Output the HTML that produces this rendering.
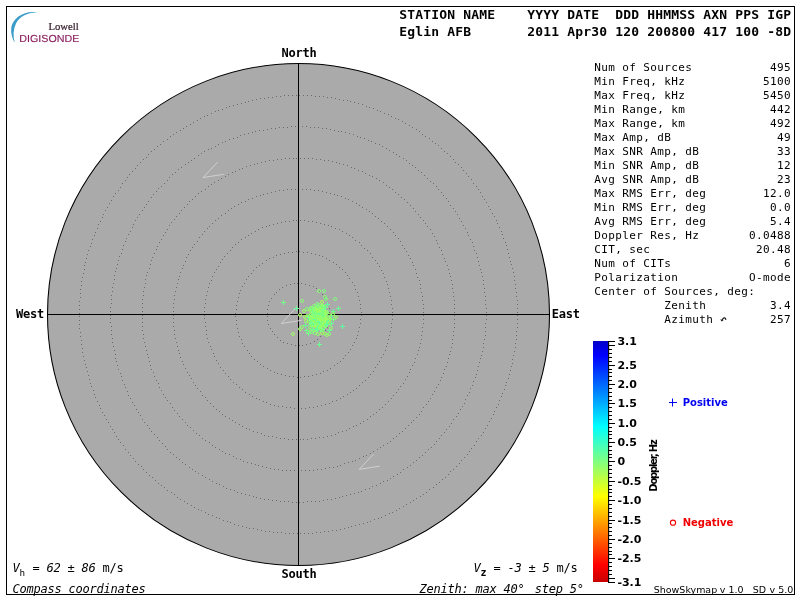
<!DOCTYPE html>
<html><head><meta charset="utf-8"><title>Skymap</title>
<style>
html,body{margin:0;padding:0;background:#fff;}
body{width:800px;height:600px;overflow:hidden;position:relative;}
svg{position:absolute;left:0;top:0;display:block;}
text{white-space:pre;}
.m{font-family:"DejaVu Sans Mono","Liberation Mono",monospace;font-size:11px;letter-spacing:0.378px;fill:#000;}
.mb{font-family:"DejaVu Sans Mono","Liberation Mono",monospace;font-size:12px;font-weight:bold;letter-spacing:-0.224px;fill:#000;}
.hb{font-family:"DejaVu Sans Mono","Liberation Mono",monospace;font-size:13px;font-weight:bold;letter-spacing:0.174px;fill:#000;}
.mi{font-family:"DejaVu Sans Mono","Liberation Mono",monospace;font-size:12px;font-style:italic;letter-spacing:-0.224px;fill:#000;}
.sb{font-family:"DejaVu Sans","Liberation Sans",sans-serif;font-weight:bold;font-size:11px;fill:#000;}
.s{font-family:"DejaVu Sans","Liberation Sans",sans-serif;font-size:10px;fill:#000;}
</style></head><body>
<svg width="800" height="600" viewBox="0 0 800 600">
<defs><linearGradient id="cb" x1="0" y1="0" x2="0" y2="1"><stop offset="0" stop-color="#0000c8"/><stop offset="0.06" stop-color="#0000ff"/><stop offset="0.355" stop-color="#00ffff"/><stop offset="0.5" stop-color="#80ff80"/><stop offset="0.645" stop-color="#ffff00"/><stop offset="0.93" stop-color="#ff0000"/><stop offset="1" stop-color="#c80000"/></linearGradient></defs>
<rect x="0" y="0" width="800" height="600" fill="#fff"/>
<rect x="6.5" y="6.5" width="788" height="588" fill="none" stroke="#000" stroke-width="1"/>
<path d="M38.7 12.6 C26 9.5 12.5 17 11.2 28 C10.7 33.5 12.3 39 14.8 42.8 C12.8 36 13.2 29.5 16 23.5 C19.5 16.5 28 12 38.7 12.6 Z" fill="#3a9cc8"/>
<text transform="translate(48.5,30.3) scale(1.05,1)" font-family="Liberation Serif,serif" font-size="10.2px" fill="#38202f" stroke="#38202f" stroke-width="0.2">Lowell</text>
<text text-rendering="geometricPrecision" transform="translate(19.3,42.3) scale(1.05,1)" font-family="Liberation Sans,sans-serif" font-size="10.2px" fill="#8a1f60" stroke="#8a1f60" stroke-width="0.15">DIGISONDE</text>
<circle cx="298.5" cy="314.5" r="251.0" fill="#aaaaaa" stroke="#000" stroke-width="1.05"/>
<path d="M329 315.5h1M329 319.5h1M328 323.5h1M327 327.5h1M325 330.5h1M322 334.5h1M320 336.5h1M317 339.5h1M314 341.5h1M310 343.5h1M306 344.5h1M302 345.5h1M299 345.5h1M295 345.5h1M291 344.5h1M287 343.5h1M283 342.5h1M280 340.5h1M277 337.5h1M274 334.5h1M272 331.5h1M270 328.5h1M268 324.5h1M267 320.5h1M267 316.5h1M267 313.5h1M267 309.5h1M268 305.5h1M269 301.5h1M271 298.5h1M274 294.5h1M276 292.5h1M279 289.5h1M282 287.5h1M286 285.5h1M290 284.5h1M294 283.5h1M297 283.5h1M301 283.5h1M305 284.5h1M309 285.5h1M313 286.5h1M316 288.5h1M319 291.5h1M322 294.5h1M324 297.5h1M326 300.5h1M328 304.5h1M329 308.5h1M329 312.5h1M361 315.5h1M360 319.5h1M360 323.5h1M359 327.5h1M358 331.5h1M357 335.5h1M356 338.5h1M354 342.5h1M352 345.5h1M350 349.5h1M348 352.5h1M345 355.5h1M343 358.5h1M340 361.5h1M337 363.5h1M334 365.5h1M330 368.5h1M327 370.5h1M323 371.5h1M320 373.5h1M316 374.5h1M312 375.5h1M308 376.5h1M304 376.5h1M300 377.5h1M297 377.5h1M293 376.5h1M289 376.5h1M285 375.5h1M281 374.5h1M277 373.5h1M274 372.5h1M270 370.5h1M267 368.5h1M263 366.5h1M260 364.5h1M257 361.5h1M254 359.5h1M251 356.5h1M249 353.5h1M247 350.5h1M244 346.5h1M242 343.5h1M241 339.5h1M239 336.5h1M238 332.5h1M237 328.5h1M236 324.5h1M236 320.5h1M235 316.5h1M235 313.5h1M236 309.5h1M236 305.5h1M237 301.5h1M238 297.5h1M239 293.5h1M240 290.5h1M242 286.5h1M244 283.5h1M246 279.5h1M248 276.5h1M251 273.5h1M253 270.5h1M256 267.5h1M259 265.5h1M262 263.5h1M266 260.5h1M269 258.5h1M273 257.5h1M276 255.5h1M280 254.5h1M284 253.5h1M288 252.5h1M292 252.5h1M296 251.5h1M299 251.5h1M303 252.5h1M307 252.5h1M311 253.5h1M315 254.5h1M319 255.5h1M322 256.5h1M326 258.5h1M329 260.5h1M333 262.5h1M336 264.5h1M339 267.5h1M342 269.5h1M345 272.5h1M347 275.5h1M349 278.5h1M352 282.5h1M354 285.5h1M355 289.5h1M357 292.5h1M358 296.5h1M359 300.5h1M360 304.5h1M360 308.5h1M361 312.5h1M392 315.5h1M392 319.5h1M391 323.5h1M391 327.5h1M390 331.5h1M389 335.5h1M388 339.5h1M387 343.5h1M386 346.5h1M385 350.5h1M383 354.5h1M381 357.5h1M379 361.5h1M377 364.5h1M375 367.5h1M373 371.5h1M370 374.5h1M368 377.5h1M365 380.5h1M362 382.5h1M359 385.5h1M356 388.5h1M353 390.5h1M350 392.5h1M347 394.5h1M343 396.5h1M340 398.5h1M336 400.5h1M332 401.5h1M329 403.5h1M325 404.5h1M321 405.5h1M317 406.5h1M313 407.5h1M309 407.5h1M305 408.5h1M301 408.5h1M298 408.5h1M294 408.5h1M290 407.5h1M286 407.5h1M282 406.5h1M278 406.5h1M274 405.5h1M270 404.5h1M266 402.5h1M263 401.5h1M259 399.5h1M256 398.5h1M252 396.5h1M249 394.5h1M245 392.5h1M242 389.5h1M239 387.5h1M236 384.5h1M233 382.5h1M230 379.5h1M228 376.5h1M225 373.5h1M223 370.5h1M220 367.5h1M218 363.5h1M216 360.5h1M214 356.5h1M213 353.5h1M211 349.5h1M210 346.5h1M208 342.5h1M207 338.5h1M206 334.5h1M206 330.5h1M205 326.5h1M205 322.5h1M204 318.5h1M204 315.5h1M204 311.5h1M204 307.5h1M205 303.5h1M205 299.5h1M206 295.5h1M207 291.5h1M208 287.5h1M209 283.5h1M211 280.5h1M212 276.5h1M214 272.5h1M216 269.5h1M218 266.5h1M220 262.5h1M222 259.5h1M224 256.5h1M227 253.5h1M230 250.5h1M232 247.5h1M235 244.5h1M238 242.5h1M241 239.5h1M245 237.5h1M248 235.5h1M251 233.5h1M255 231.5h1M258 229.5h1M262 227.5h1M266 226.5h1M269 225.5h1M273 224.5h1M277 223.5h1M281 222.5h1M285 221.5h1M289 221.5h1M293 220.5h1M296 220.5h1M300 220.5h1M304 220.5h1M308 221.5h1M312 221.5h1M316 222.5h1M320 223.5h1M324 224.5h1M328 225.5h1M331 226.5h1M335 228.5h1M339 229.5h1M342 231.5h1M346 233.5h1M349 235.5h1M352 237.5h1M355 240.5h1M359 242.5h1M361 245.5h1M364 248.5h1M367 250.5h1M370 253.5h1M372 257.5h1M375 260.5h1M377 263.5h1M379 266.5h1M381 270.5h1M383 273.5h1M384 277.5h1M386 281.5h1M387 284.5h1M388 288.5h1M389 292.5h1M390 296.5h1M391 300.5h1M391 304.5h1M392 308.5h1M392 312.5h1M423 315.5h1M423 319.5h1M423 323.5h1M422 327.5h1M422 331.5h1M421 335.5h1M421 339.5h1M420 343.5h1M419 347.5h1M418 350.5h1M417 354.5h1M415 358.5h1M414 362.5h1M412 365.5h1M410 369.5h1M409 372.5h1M407 376.5h1M405 379.5h1M403 383.5h1M400 386.5h1M398 389.5h1M396 392.5h1M393 395.5h1M391 398.5h1M388 401.5h1M385 404.5h1M382 407.5h1M379 409.5h1M376 412.5h1M373 414.5h1M370 416.5h1M367 419.5h1M363 421.5h1M360 423.5h1M356 425.5h1M353 426.5h1M349 428.5h1M346 430.5h1M342 431.5h1M338 432.5h1M335 434.5h1M331 435.5h1M327 436.5h1M323 437.5h1M319 437.5h1M315 438.5h1M311 438.5h1M307 439.5h1M303 439.5h1M300 439.5h1M296 439.5h1M292 439.5h1M288 439.5h1M284 438.5h1M280 438.5h1M276 437.5h1M272 436.5h1M268 436.5h1M264 435.5h1M261 433.5h1M257 432.5h1M253 431.5h1M249 429.5h1M246 428.5h1M242 426.5h1M239 424.5h1M235 422.5h1M232 420.5h1M229 418.5h1M225 416.5h1M222 414.5h1M219 411.5h1M216 409.5h1M213 406.5h1M210 403.5h1M207 400.5h1M205 397.5h1M202 395.5h1M200 391.5h1M197 388.5h1M195 385.5h1M193 382.5h1M191 378.5h1M189 375.5h1M187 372.5h1M185 368.5h1M183 364.5h1M182 361.5h1M180 357.5h1M179 353.5h1M178 350.5h1M177 346.5h1M176 342.5h1M175 338.5h1M174 334.5h1M174 330.5h1M173 326.5h1M173 322.5h1M173 318.5h1M173 315.5h1M173 311.5h1M173 307.5h1M173 303.5h1M174 299.5h1M174 295.5h1M175 291.5h1M176 287.5h1M177 283.5h1M178 279.5h1M179 276.5h1M180 272.5h1M182 268.5h1M183 265.5h1M185 261.5h1M186 257.5h1M188 254.5h1M190 250.5h1M192 247.5h1M194 244.5h1M197 241.5h1M199 237.5h1M202 234.5h1M204 231.5h1M207 228.5h1M209 226.5h1M212 223.5h1M215 220.5h1M218 218.5h1M221 215.5h1M225 213.5h1M228 210.5h1M231 208.5h1M234 206.5h1M238 204.5h1M241 202.5h1M245 201.5h1M248 199.5h1M252 198.5h1M256 196.5h1M260 195.5h1M263 194.5h1M267 193.5h1M271 192.5h1M275 191.5h1M279 190.5h1M283 190.5h1M287 189.5h1M291 189.5h1M295 189.5h1M298 189.5h1M302 189.5h1M306 189.5h1M310 189.5h1M314 190.5h1M318 190.5h1M322 191.5h1M326 192.5h1M330 193.5h1M334 194.5h1M337 195.5h1M341 196.5h1M345 198.5h1M348 199.5h1M352 201.5h1M356 203.5h1M359 205.5h1M362 207.5h1M366 209.5h1M369 211.5h1M372 213.5h1M375 216.5h1M378 218.5h1M381 221.5h1M384 223.5h1M387 226.5h1M390 229.5h1M393 232.5h1M395 235.5h1M398 238.5h1M400 241.5h1M402 245.5h1M404 248.5h1M406 251.5h1M408 255.5h1M410 258.5h1M412 262.5h1M413 265.5h1M415 269.5h1M416 273.5h1M417 277.5h1M419 280.5h1M420 284.5h1M420 288.5h1M421 292.5h1M422 296.5h1M422 300.5h1M423 304.5h1M423 308.5h1M423 312.5h1M454 315.5h1M454 319.5h1M454 323.5h1M454 327.5h1M453 331.5h1M453 335.5h1M452 339.5h1M452 343.5h1M451 347.5h1M450 351.5h1M449 354.5h1M448 358.5h1M447 362.5h1M446 366.5h1M444 369.5h1M443 373.5h1M441 377.5h1M440 380.5h1M438 384.5h1M436 387.5h1M434 391.5h1M432 394.5h1M430 398.5h1M428 401.5h1M426 404.5h1M423 407.5h1M421 411.5h1M419 414.5h1M416 417.5h1M413 420.5h1M411 422.5h1M408 425.5h1M405 428.5h1M402 431.5h1M399 433.5h1M396 436.5h1M393 438.5h1M390 441.5h1M387 443.5h1M383 445.5h1M380 447.5h1M377 449.5h1M373 451.5h1M370 453.5h1M366 455.5h1M363 456.5h1M359 458.5h1M355 460.5h1M352 461.5h1M348 462.5h1M344 463.5h1M340 465.5h1M337 466.5h1M333 467.5h1M329 467.5h1M325 468.5h1M321 469.5h1M317 469.5h1M313 470.5h1M309 470.5h1M305 470.5h1M301 470.5h1M298 470.5h1M294 470.5h1M290 470.5h1M286 470.5h1M282 470.5h1M278 469.5h1M274 469.5h1M270 468.5h1M266 467.5h1M262 466.5h1M258 465.5h1M255 464.5h1M251 463.5h1M247 462.5h1M243 461.5h1M240 459.5h1M236 458.5h1M233 456.5h1M229 454.5h1M225 453.5h1M222 451.5h1M219 449.5h1M215 447.5h1M212 445.5h1M209 442.5h1M205 440.5h1M202 438.5h1M199 435.5h1M196 433.5h1M193 430.5h1M190 427.5h1M187 425.5h1M185 422.5h1M182 419.5h1M179 416.5h1M177 413.5h1M174 410.5h1M172 407.5h1M170 403.5h1M167 400.5h1M165 397.5h1M163 394.5h1M161 390.5h1M159 387.5h1M158 383.5h1M156 380.5h1M154 376.5h1M153 372.5h1M151 369.5h1M150 365.5h1M149 361.5h1M148 357.5h1M147 354.5h1M146 350.5h1M145 346.5h1M144 342.5h1M143 338.5h1M143 334.5h1M142 330.5h1M142 326.5h1M142 322.5h1M142 318.5h1M142 315.5h1M142 311.5h1M142 307.5h1M142 303.5h1M142 299.5h1M143 295.5h1M143 291.5h1M144 287.5h1M145 283.5h1M145 279.5h1M146 275.5h1M147 272.5h1M149 268.5h1M150 264.5h1M151 260.5h1M152 257.5h1M154 253.5h1M156 249.5h1M157 246.5h1M159 242.5h1M161 239.5h1M163 235.5h1M165 232.5h1M167 229.5h1M169 225.5h1M171 222.5h1M174 219.5h1M176 216.5h1M179 213.5h1M181 210.5h1M184 207.5h1M187 204.5h1M189 201.5h1M192 199.5h1M195 196.5h1M198 193.5h1M201 191.5h1M205 189.5h1M208 186.5h1M211 184.5h1M214 182.5h1M218 180.5h1M221 178.5h1M225 176.5h1M228 174.5h1M232 172.5h1M235 171.5h1M239 169.5h1M242 168.5h1M246 166.5h1M250 165.5h1M254 164.5h1M257 163.5h1M261 162.5h1M265 161.5h1M269 160.5h1M273 160.5h1M277 159.5h1M281 159.5h1M285 158.5h1M289 158.5h1M293 158.5h1M296 158.5h1M300 158.5h1M304 158.5h1M308 158.5h1M312 158.5h1M316 159.5h1M320 159.5h1M324 160.5h1M328 160.5h1M332 161.5h1M336 162.5h1M339 163.5h1M343 164.5h1M347 165.5h1M351 167.5h1M354 168.5h1M358 170.5h1M362 171.5h1M365 173.5h1M369 175.5h1M372 176.5h1M376 178.5h1M379 180.5h1M383 182.5h1M386 185.5h1M389 187.5h1M392 189.5h1M395 192.5h1M398 194.5h1M401 197.5h1M404 199.5h1M407 202.5h1M410 205.5h1M413 208.5h1M415 211.5h1M418 214.5h1M420 217.5h1M423 220.5h1M425 223.5h1M427 226.5h1M430 229.5h1M432 233.5h1M434 236.5h1M436 240.5h1M437 243.5h1M439 247.5h1M441 250.5h1M442 254.5h1M444 258.5h1M445 261.5h1M447 265.5h1M448 269.5h1M449 273.5h1M450 276.5h1M451 280.5h1M452 284.5h1M452 288.5h1M453 292.5h1M453 296.5h1M454 300.5h1M454 304.5h1M454 308.5h1M454 312.5h1M486 315.5h1M486 319.5h1M485 323.5h1M485 327.5h1M485 331.5h1M485 335.5h1M484 339.5h1M483 343.5h1M483 347.5h1M482 351.5h1M481 355.5h1M480 358.5h1M479 362.5h1M478 366.5h1M477 370.5h1M476 374.5h1M475 377.5h1M473 381.5h1M472 385.5h1M470 388.5h1M469 392.5h1M467 395.5h1M465 399.5h1M464 403.5h1M462 406.5h1M460 409.5h1M458 413.5h1M456 416.5h1M453 419.5h1M451 423.5h1M449 426.5h1M446 429.5h1M444 432.5h1M441 435.5h1M439 438.5h1M436 441.5h1M434 444.5h1M431 447.5h1M428 449.5h1M425 452.5h1M422 455.5h1M419 457.5h1M416 460.5h1M413 462.5h1M410 465.5h1M407 467.5h1M403 469.5h1M400 472.5h1M397 474.5h1M393 476.5h1M390 478.5h1M387 480.5h1M383 481.5h1M380 483.5h1M376 485.5h1M372 486.5h1M369 488.5h1M365 489.5h1M361 491.5h1M358 492.5h1M354 493.5h1M350 494.5h1M346 495.5h1M342 496.5h1M339 497.5h1M335 498.5h1M331 499.5h1M327 499.5h1M323 500.5h1M319 501.5h1M315 501.5h1M311 501.5h1M307 501.5h1M303 502.5h1M299 502.5h1M296 502.5h1M292 502.5h1M288 501.5h1M284 501.5h1M280 501.5h1M276 500.5h1M272 500.5h1M268 499.5h1M264 499.5h1M260 498.5h1M256 497.5h1M253 496.5h1M249 495.5h1M245 494.5h1M241 493.5h1M237 492.5h1M234 490.5h1M230 489.5h1M226 488.5h1M223 486.5h1M219 484.5h1M216 483.5h1M212 481.5h1M209 479.5h1M205 477.5h1M202 475.5h1M198 473.5h1M195 471.5h1M192 469.5h1M189 467.5h1M185 464.5h1M182 462.5h1M179 459.5h1M176 457.5h1M173 454.5h1M170 452.5h1M167 449.5h1M165 446.5h1M162 443.5h1M159 440.5h1M157 437.5h1M154 434.5h1M151 431.5h1M149 428.5h1M147 425.5h1M144 422.5h1M142 419.5h1M140 415.5h1M138 412.5h1M136 409.5h1M134 405.5h1M132 402.5h1M130 398.5h1M128 395.5h1M127 391.5h1M125 387.5h1M124 384.5h1M122 380.5h1M121 376.5h1M120 373.5h1M118 369.5h1M117 365.5h1M116 361.5h1M115 358.5h1M115 354.5h1M114 350.5h1M113 346.5h1M112 342.5h1M112 338.5h1M111 334.5h1M111 330.5h1M111 326.5h1M110 322.5h1M110 318.5h1M110 315.5h1M110 311.5h1M110 307.5h1M111 303.5h1M111 299.5h1M111 295.5h1M112 291.5h1M112 287.5h1M113 283.5h1M114 279.5h1M114 275.5h1M115 271.5h1M116 268.5h1M117 264.5h1M118 260.5h1M119 256.5h1M121 253.5h1M122 249.5h1M123 245.5h1M125 241.5h1M126 238.5h1M128 234.5h1M130 231.5h1M132 227.5h1M133 224.5h1M135 220.5h1M137 217.5h1M139 214.5h1M142 210.5h1M144 207.5h1M146 204.5h1M148 201.5h1M151 197.5h1M153 194.5h1M156 191.5h1M158 188.5h1M161 186.5h1M164 183.5h1M167 180.5h1M169 177.5h1M172 174.5h1M175 172.5h1M178 169.5h1M181 167.5h1M185 164.5h1M188 162.5h1M191 160.5h1M194 158.5h1M198 155.5h1M201 153.5h1M204 151.5h1M208 149.5h1M211 148.5h1M215 146.5h1M218 144.5h1M222 142.5h1M225 141.5h1M229 139.5h1M233 138.5h1M237 137.5h1M240 135.5h1M244 134.5h1M248 133.5h1M252 132.5h1M255 131.5h1M259 130.5h1M263 130.5h1M267 129.5h1M271 128.5h1M275 128.5h1M279 127.5h1M283 127.5h1M287 127.5h1M291 126.5h1M295 126.5h1M298 126.5h1M302 126.5h1M306 126.5h1M310 127.5h1M314 127.5h1M318 127.5h1M322 128.5h1M326 128.5h1M330 129.5h1M334 130.5h1M338 131.5h1M341 131.5h1M345 132.5h1M349 133.5h1M353 134.5h1M357 136.5h1M360 137.5h1M364 138.5h1M368 140.5h1M371 141.5h1M375 143.5h1M379 144.5h1M382 146.5h1M386 148.5h1M389 150.5h1M393 152.5h1M396 154.5h1M399 156.5h1M403 158.5h1M406 160.5h1M409 163.5h1M412 165.5h1M415 167.5h1M418 170.5h1M421 172.5h1M424 175.5h1M427 178.5h1M430 181.5h1M433 183.5h1M436 186.5h1M438 189.5h1M441 192.5h1M443 195.5h1M446 198.5h1M448 201.5h1M450 205.5h1M453 208.5h1M455 211.5h1M457 214.5h1M459 218.5h1M461 221.5h1M463 225.5h1M465 228.5h1M467 232.5h1M468 235.5h1M470 239.5h1M472 242.5h1M473 246.5h1M474 250.5h1M476 253.5h1M477 257.5h1M478 261.5h1M479 265.5h1M480 269.5h1M481 272.5h1M482 276.5h1M483 280.5h1M483 284.5h1M484 288.5h1M484 292.5h1M485 296.5h1M485 300.5h1M485 304.5h1M486 308.5h1M486 312.5h1M517 315.5h1M517 319.5h1M517 323.5h1M517 327.5h1M516 331.5h1M516 335.5h1M516 339.5h1M515 343.5h1M515 347.5h1M514 351.5h1M513 355.5h1M512 359.5h1M512 363.5h1M511 366.5h1M510 370.5h1M509 374.5h1M508 378.5h1M506 382.5h1M505 385.5h1M504 389.5h1M502 393.5h1M501 396.5h1M499 400.5h1M498 404.5h1M496 407.5h1M494 411.5h1M493 414.5h1M491 418.5h1M489 421.5h1M487 425.5h1M485 428.5h1M483 432.5h1M481 435.5h1M478 438.5h1M476 441.5h1M474 445.5h1M471 448.5h1M469 451.5h1M467 454.5h1M464 457.5h1M461 460.5h1M459 463.5h1M456 466.5h1M453 469.5h1M450 471.5h1M448 474.5h1M445 477.5h1M442 479.5h1M439 482.5h1M436 484.5h1M433 487.5h1M429 489.5h1M426 492.5h1M423 494.5h1M420 496.5h1M416 498.5h1M413 500.5h1M410 502.5h1M406 504.5h1M403 506.5h1M399 508.5h1M396 510.5h1M392 512.5h1M389 513.5h1M385 515.5h1M381 517.5h1M378 518.5h1M374 519.5h1M370 521.5h1M367 522.5h1M363 523.5h1M359 524.5h1M355 525.5h1M351 526.5h1M348 527.5h1M344 528.5h1M340 529.5h1M336 530.5h1M332 530.5h1M328 531.5h1M324 531.5h1M320 532.5h1M316 532.5h1M312 533.5h1M308 533.5h1M304 533.5h1M300 533.5h1M297 533.5h1M293 533.5h1M289 533.5h1M285 533.5h1M281 532.5h1M277 532.5h1M273 532.5h1M269 531.5h1M265 531.5h1M261 530.5h1M257 529.5h1M253 528.5h1M249 528.5h1M246 527.5h1M242 526.5h1M238 525.5h1M234 524.5h1M230 522.5h1M227 521.5h1M223 520.5h1M219 518.5h1M216 517.5h1M212 515.5h1M208 514.5h1M205 512.5h1M201 510.5h1M198 509.5h1M194 507.5h1M191 505.5h1M187 503.5h1M184 501.5h1M180 499.5h1M177 497.5h1M174 494.5h1M171 492.5h1M167 490.5h1M164 487.5h1M161 485.5h1M158 483.5h1M155 480.5h1M152 477.5h1M149 475.5h1M146 472.5h1M143 469.5h1M141 466.5h1M138 464.5h1M135 461.5h1M133 458.5h1M130 455.5h1M128 452.5h1M125 449.5h1M123 445.5h1M120 442.5h1M118 439.5h1M116 436.5h1M114 432.5h1M112 429.5h1M110 426.5h1M108 422.5h1M106 419.5h1M104 415.5h1M102 412.5h1M100 408.5h1M99 405.5h1M97 401.5h1M95 397.5h1M94 394.5h1M93 390.5h1M91 386.5h1M90 383.5h1M89 379.5h1M88 375.5h1M87 371.5h1M86 367.5h1M85 364.5h1M84 360.5h1M83 356.5h1M82 352.5h1M82 348.5h1M81 344.5h1M81 340.5h1M80 336.5h1M80 332.5h1M79 328.5h1M79 324.5h1M79 320.5h1M79 316.5h1M79 313.5h1M79 309.5h1M79 305.5h1M79 301.5h1M80 297.5h1M80 293.5h1M80 289.5h1M81 285.5h1M81 281.5h1M82 277.5h1M83 273.5h1M84 269.5h1M84 265.5h1M85 262.5h1M86 258.5h1M87 254.5h1M88 250.5h1M90 246.5h1M91 243.5h1M92 239.5h1M94 235.5h1M95 232.5h1M97 228.5h1M98 224.5h1M100 221.5h1M102 217.5h1M103 214.5h1M105 210.5h1M107 207.5h1M109 203.5h1M111 200.5h1M113 196.5h1M115 193.5h1M118 190.5h1M120 187.5h1M122 183.5h1M125 180.5h1M127 177.5h1M129 174.5h1M132 171.5h1M135 168.5h1M137 165.5h1M140 162.5h1M143 159.5h1M146 157.5h1M148 154.5h1M151 151.5h1M154 149.5h1M157 146.5h1M160 144.5h1M163 141.5h1M167 139.5h1M170 136.5h1M173 134.5h1M176 132.5h1M180 130.5h1M183 128.5h1M186 126.5h1M190 124.5h1M193 122.5h1M197 120.5h1M200 118.5h1M204 116.5h1M207 115.5h1M211 113.5h1M215 111.5h1M218 110.5h1M222 109.5h1M226 107.5h1M229 106.5h1M233 105.5h1M237 104.5h1M241 103.5h1M245 102.5h1M248 101.5h1M252 100.5h1M256 99.5h1M260 98.5h1M264 98.5h1M268 97.5h1M272 97.5h1M276 96.5h1M280 96.5h1M284 95.5h1M288 95.5h1M292 95.5h1M296 95.5h1M299 95.5h1M303 95.5h1M307 95.5h1M311 95.5h1M315 96.5h1M319 96.5h1M323 96.5h1M327 97.5h1M331 97.5h1M335 98.5h1M339 99.5h1M343 100.5h1M347 100.5h1M350 101.5h1M354 102.5h1M358 103.5h1M362 104.5h1M366 106.5h1M369 107.5h1M373 108.5h1M377 110.5h1M380 111.5h1M384 113.5h1M388 114.5h1M391 116.5h1M395 118.5h1M398 119.5h1M402 121.5h1M405 123.5h1M409 125.5h1M412 127.5h1M416 129.5h1M419 131.5h1M422 134.5h1M425 136.5h1M429 138.5h1M432 141.5h1M435 143.5h1M438 145.5h1M441 148.5h1M444 151.5h1M447 153.5h1M450 156.5h1M453 159.5h1M455 162.5h1M458 164.5h1M461 167.5h1M463 170.5h1M466 173.5h1M468 176.5h1M471 179.5h1M473 183.5h1M476 186.5h1M478 189.5h1M480 192.5h1M482 196.5h1M484 199.5h1M486 202.5h1M488 206.5h1M490 209.5h1M492 213.5h1M494 216.5h1M496 220.5h1M497 223.5h1M499 227.5h1M501 231.5h1M502 234.5h1M503 238.5h1M505 242.5h1M506 245.5h1M507 249.5h1M508 253.5h1M509 257.5h1M510 261.5h1M511 264.5h1M512 268.5h1M513 272.5h1M514 276.5h1M514 280.5h1M515 284.5h1M515 288.5h1M516 292.5h1M516 296.5h1M517 300.5h1M517 304.5h1M517 308.5h1M517 312.5h1" fill="none" stroke="#6a6a6a" stroke-width="1"/>
<line x1="47.5" y1="314.5" x2="549.5" y2="314.5" stroke="#000" stroke-width="1"/>
<line x1="298.5" y1="63.5" x2="298.5" y2="565.5" stroke="#000" stroke-width="1"/>
<polyline points="217.5,162.2 203.2,177.5 223.7,174.3" fill="none" stroke="#d0d0d0" stroke-width="1"/>
<polyline points="373.5,454.1 359.2,469.4 379.7,466.2" fill="none" stroke="#d0d0d0" stroke-width="1"/>
<polyline points="295.6,308.2 281.3,323.5 301.8,320.3" fill="none" stroke="#d0d0d0" stroke-width="1"/>
<ellipse cx="318.8" cy="317.4" rx="7.5" ry="8" fill="#88ff72"/>
<g fill="none" stroke-width="1"><circle cx="316" cy="318" r="1.5" stroke="#7eff80"/><circle cx="318" cy="316" r="1.5" stroke="#92ff6c"/><circle cx="324" cy="317" r="1.5" stroke="#88ff76"/><circle cx="320" cy="311" r="1.5" stroke="#7eff80"/><path d="M315.0 314.5h5M317.5 312.0v5" stroke="#62ff9c"/><path d="M315.0 325.5h5M317.5 323.0v5" stroke="#74ff8a"/><circle cx="316" cy="310" r="1.5" stroke="#9cff62"/><circle cx="316" cy="315" r="1.5" stroke="#9cff62"/><circle cx="318" cy="326" r="1.5" stroke="#9cff62"/><circle cx="320" cy="323" r="1.5" stroke="#a6ff5a"/><circle cx="324" cy="314" r="1.5" stroke="#9cff62"/><path d="M314.0 315.5h5M316.5 313.0v5" stroke="#62ff9c"/><circle cx="321" cy="321" r="1.5" stroke="#92ff6c"/><circle cx="313" cy="318" r="1.5" stroke="#92ff6c"/><circle cx="317" cy="330" r="1.5" stroke="#7eff80"/><circle cx="318" cy="317" r="1.5" stroke="#7eff80"/><path d="M318.0 318.5h5M320.5 316.0v5" stroke="#6aff94"/><circle cx="329" cy="320" r="1.5" stroke="#88ff76"/><circle cx="315" cy="322" r="1.5" stroke="#7eff80"/><circle cx="316" cy="316" r="1.5" stroke="#9cff62"/><circle cx="314" cy="313" r="1.5" stroke="#9cff62"/><circle cx="320" cy="311" r="1.5" stroke="#a6ff5a"/><circle cx="322" cy="330" r="1.5" stroke="#88ff76"/><path d="M315.0 322.5h5M317.5 320.0v5" stroke="#6aff94"/><path d="M317.0 321.5h5M319.5 319.0v5" stroke="#74ff8a"/><circle cx="319" cy="308" r="1.5" stroke="#92ff6c"/><circle cx="315" cy="308" r="1.5" stroke="#88ff76"/><path d="M312.0 311.5h5M314.5 309.0v5" stroke="#74ff8a"/><circle cx="316" cy="321" r="1.5" stroke="#9cff62"/><circle cx="329" cy="334" r="1.5" stroke="#92ff6c"/><path d="M318.0 319.5h5M320.5 317.0v5" stroke="#62ff9c"/><path d="M318.0 318.5h5M320.5 316.0v5" stroke="#74ff8a"/><circle cx="326" cy="323" r="1.5" stroke="#92ff6c"/><path d="M318.0 318.5h5M320.5 316.0v5" stroke="#6aff94"/><circle cx="313" cy="319" r="1.5" stroke="#7eff80"/><circle cx="312" cy="332" r="1.5" stroke="#7eff80"/><path d="M319.0 315.5h5M321.5 313.0v5" stroke="#74ff8a"/><circle cx="322" cy="318" r="1.5" stroke="#a6ff5a"/><circle cx="322" cy="318" r="1.5" stroke="#a6ff5a"/><circle cx="317" cy="318" r="1.5" stroke="#9cff62"/><circle cx="324" cy="315" r="1.5" stroke="#7eff80"/><path d="M315.0 319.5h5M317.5 317.0v5" stroke="#6aff94"/><circle cx="318" cy="326" r="1.5" stroke="#7eff80"/><circle cx="318" cy="314" r="1.5" stroke="#7eff80"/><circle cx="330" cy="319" r="1.5" stroke="#9cff62"/><circle cx="318" cy="320" r="1.5" stroke="#92ff6c"/><circle cx="323" cy="314" r="1.5" stroke="#92ff6c"/><path d="M312.0 313.5h5M314.5 311.0v5" stroke="#6aff94"/><circle cx="319" cy="321" r="1.5" stroke="#a6ff5a"/><circle cx="318" cy="312" r="1.5" stroke="#88ff76"/><path d="M322.0 312.5h5M324.5 310.0v5" stroke="#62ff9c"/><circle cx="317" cy="322" r="1.5" stroke="#7eff80"/><path d="M315.0 319.5h5M317.5 317.0v5" stroke="#74ff8a"/><path d="M327.0 330.5h5M329.5 328.0v5" stroke="#6aff94"/><circle cx="321" cy="311" r="1.5" stroke="#a6ff5a"/><circle cx="320" cy="315" r="1.5" stroke="#92ff6c"/><path d="M322.0 322.5h5M324.5 320.0v5" stroke="#74ff8a"/><circle cx="316" cy="319" r="1.5" stroke="#9cff62"/><path d="M321.0 309.5h5M323.5 307.0v5" stroke="#6aff94"/><circle cx="322" cy="325" r="1.5" stroke="#a6ff5a"/><path d="M318.0 322.5h5M320.5 320.0v5" stroke="#74ff8a"/><circle cx="322" cy="302" r="1.5" stroke="#a6ff5a"/><path d="M310.0 316.5h5M312.5 314.0v5" stroke="#74ff8a"/><circle cx="307" cy="309" r="1.5" stroke="#7eff80"/><circle cx="319" cy="314" r="1.5" stroke="#92ff6c"/><circle cx="319" cy="291" r="1.5" stroke="#88ff76"/><circle cx="325" cy="297" r="1.5" stroke="#88ff76"/><path d="M320.0 311.5h5M322.5 309.0v5" stroke="#74ff8a"/><path d="M323.0 320.5h5M325.5 318.0v5" stroke="#62ff9c"/><path d="M315.0 318.5h5M317.5 316.0v5" stroke="#62ff9c"/><path d="M313.0 315.5h5M315.5 313.0v5" stroke="#6aff94"/><path d="M320.0 315.5h5M322.5 313.0v5" stroke="#74ff8a"/><circle cx="310" cy="310" r="1.5" stroke="#a6ff5a"/><circle cx="309" cy="322" r="1.5" stroke="#92ff6c"/><circle cx="318" cy="315" r="1.5" stroke="#92ff6c"/><circle cx="321" cy="315" r="1.5" stroke="#7eff80"/><circle cx="314" cy="325" r="1.5" stroke="#9cff62"/><circle cx="300" cy="315" r="1.5" stroke="#a6ff5a"/><circle cx="312" cy="320" r="1.5" stroke="#7eff80"/><path d="M311.0 311.5h5M313.5 309.0v5" stroke="#6aff94"/><path d="M320.0 306.5h5M322.5 304.0v5" stroke="#74ff8a"/><circle cx="323" cy="306" r="1.5" stroke="#88ff76"/><circle cx="313" cy="330" r="1.5" stroke="#9cff62"/><circle cx="327" cy="322" r="1.5" stroke="#92ff6c"/><path d="M309.0 323.5h5M311.5 321.0v5" stroke="#74ff8a"/><circle cx="310" cy="330" r="1.5" stroke="#9cff62"/><circle cx="319" cy="322" r="1.5" stroke="#9cff62"/><circle cx="318" cy="325" r="1.5" stroke="#a6ff5a"/><path d="M314.0 329.5h5M316.5 327.0v5" stroke="#6aff94"/><path d="M317.0 316.5h5M319.5 314.0v5" stroke="#6aff94"/><circle cx="321" cy="321" r="1.5" stroke="#a6ff5a"/><path d="M315.0 312.5h5M317.5 310.0v5" stroke="#62ff9c"/><circle cx="315" cy="315" r="1.5" stroke="#a6ff5a"/><path d="M304.0 330.5h5M306.5 328.0v5" stroke="#74ff8a"/><path d="M317.0 344.5h5M319.5 342.0v5" stroke="#6aff94"/><circle cx="313" cy="317" r="1.5" stroke="#7eff80"/><path d="M311.0 316.5h5M313.5 314.0v5" stroke="#62ff9c"/><circle cx="316" cy="315" r="1.5" stroke="#88ff76"/><path d="M319.0 324.5h5M321.5 322.0v5" stroke="#74ff8a"/><circle cx="316" cy="319" r="1.5" stroke="#a6ff5a"/><circle cx="320" cy="319" r="1.5" stroke="#9cff62"/><path d="M316.0 319.5h5M318.5 317.0v5" stroke="#6aff94"/><path d="M322.0 314.5h5M324.5 312.0v5" stroke="#74ff8a"/><circle cx="324" cy="319" r="1.5" stroke="#9cff62"/><circle cx="325" cy="319" r="1.5" stroke="#92ff6c"/><circle cx="320" cy="324" r="1.5" stroke="#7eff80"/><path d="M316.0 320.5h5M318.5 318.0v5" stroke="#62ff9c"/><circle cx="320" cy="322" r="1.5" stroke="#88ff76"/><path d="M310.0 309.5h5M312.5 307.0v5" stroke="#62ff9c"/><circle cx="325" cy="326" r="1.5" stroke="#a6ff5a"/><path d="M312.0 315.5h5M314.5 313.0v5" stroke="#6aff94"/><circle cx="325" cy="334" r="1.5" stroke="#92ff6c"/><path d="M314.0 318.5h5M316.5 316.0v5" stroke="#6aff94"/><circle cx="319" cy="305" r="1.5" stroke="#92ff6c"/><path d="M319.0 321.5h5M321.5 319.0v5" stroke="#6aff94"/><path d="M321.0 316.5h5M323.5 314.0v5" stroke="#74ff8a"/><circle cx="318" cy="307" r="1.5" stroke="#92ff6c"/><circle cx="313" cy="320" r="1.5" stroke="#88ff76"/><path d="M315.0 318.5h5M317.5 316.0v5" stroke="#6aff94"/><circle cx="323" cy="310" r="1.5" stroke="#9cff62"/><path d="M319.0 317.5h5M321.5 315.0v5" stroke="#6aff94"/><circle cx="314" cy="319" r="1.5" stroke="#9cff62"/><circle cx="315" cy="319" r="1.5" stroke="#9cff62"/><circle cx="318" cy="321" r="1.5" stroke="#a6ff5a"/><path d="M317.0 312.5h5M319.5 310.0v5" stroke="#6aff94"/><circle cx="306" cy="321" r="1.5" stroke="#9cff62"/><circle cx="321" cy="310" r="1.5" stroke="#a6ff5a"/><path d="M331.0 319.5h5M333.5 317.0v5" stroke="#74ff8a"/><circle cx="311" cy="325" r="1.5" stroke="#9cff62"/><path d="M309.0 321.5h5M311.5 319.0v5" stroke="#74ff8a"/><path d="M319.0 317.5h5M321.5 315.0v5" stroke="#62ff9c"/><circle cx="319" cy="321" r="1.5" stroke="#92ff6c"/><circle cx="321" cy="317" r="1.5" stroke="#9cff62"/><circle cx="315" cy="318" r="1.5" stroke="#88ff76"/><circle cx="325" cy="316" r="1.5" stroke="#a6ff5a"/><circle cx="317" cy="317" r="1.5" stroke="#88ff76"/><path d="M320.0 319.5h5M322.5 317.0v5" stroke="#74ff8a"/><path d="M310.0 318.5h5M312.5 316.0v5" stroke="#62ff9c"/><path d="M318.0 324.5h5M320.5 322.0v5" stroke="#74ff8a"/><circle cx="325" cy="316" r="1.5" stroke="#88ff76"/><circle cx="323" cy="321" r="1.5" stroke="#92ff6c"/><circle cx="325" cy="313" r="1.5" stroke="#92ff6c"/><path d="M313.0 317.5h5M315.5 315.0v5" stroke="#74ff8a"/><circle cx="326" cy="326" r="1.5" stroke="#88ff76"/><path d="M317.0 319.5h5M319.5 317.0v5" stroke="#74ff8a"/><circle cx="312" cy="321" r="1.5" stroke="#92ff6c"/><path d="M313.0 324.5h5M315.5 322.0v5" stroke="#74ff8a"/><circle cx="331" cy="328" r="1.5" stroke="#92ff6c"/><circle cx="320" cy="314" r="1.5" stroke="#9cff62"/><circle cx="321" cy="316" r="1.5" stroke="#a6ff5a"/><circle cx="318" cy="320" r="1.5" stroke="#9cff62"/><circle cx="316" cy="317" r="1.5" stroke="#88ff76"/><path d="M308.0 318.5h5M310.5 316.0v5" stroke="#62ff9c"/><circle cx="320" cy="328" r="1.5" stroke="#9cff62"/><path d="M310.0 329.5h5M312.5 327.0v5" stroke="#6aff94"/><circle cx="323" cy="314" r="1.5" stroke="#9cff62"/><path d="M313.0 325.5h5M315.5 323.0v5" stroke="#6aff94"/><path d="M303.0 325.5h5M305.5 323.0v5" stroke="#6aff94"/><path d="M316.0 314.5h5M318.5 312.0v5" stroke="#6aff94"/><circle cx="319" cy="318" r="1.5" stroke="#9cff62"/><circle cx="325" cy="323" r="1.5" stroke="#9cff62"/><circle cx="315" cy="321" r="1.5" stroke="#a6ff5a"/><path d="M315.0 311.5h5M317.5 309.0v5" stroke="#6aff94"/><circle cx="318" cy="321" r="1.5" stroke="#7eff80"/><path d="M323.0 319.5h5M325.5 317.0v5" stroke="#6aff94"/><path d="M318.0 318.5h5M320.5 316.0v5" stroke="#6aff94"/><circle cx="316" cy="322" r="1.5" stroke="#9cff62"/><path d="M294.0 308.5h5M296.5 306.0v5" stroke="#6aff94"/><circle cx="319" cy="318" r="1.5" stroke="#88ff76"/><circle cx="324" cy="318" r="1.5" stroke="#a6ff5a"/><path d="M321.0 311.5h5M323.5 309.0v5" stroke="#6aff94"/><path d="M314.0 321.5h5M316.5 319.0v5" stroke="#6aff94"/><path d="M318.0 316.5h5M320.5 314.0v5" stroke="#6aff94"/><circle cx="316" cy="316" r="1.5" stroke="#a6ff5a"/><circle cx="300" cy="329" r="1.5" stroke="#9cff62"/><circle cx="318" cy="319" r="1.5" stroke="#7eff80"/><path d="M313.0 323.5h5M315.5 321.0v5" stroke="#74ff8a"/><circle cx="322" cy="315" r="1.5" stroke="#9cff62"/><circle cx="324" cy="291" r="1.5" stroke="#7eff80"/><circle cx="324" cy="315" r="1.5" stroke="#88ff76"/><circle cx="320" cy="315" r="1.5" stroke="#92ff6c"/><path d="M319.0 316.5h5M321.5 314.0v5" stroke="#74ff8a"/><path d="M319.0 312.5h5M321.5 310.0v5" stroke="#6aff94"/><circle cx="318" cy="317" r="1.5" stroke="#9cff62"/><circle cx="327" cy="320" r="1.5" stroke="#92ff6c"/><circle cx="321" cy="319" r="1.5" stroke="#88ff76"/><circle cx="322" cy="317" r="1.5" stroke="#92ff6c"/><path d="M313.0 318.5h5M315.5 316.0v5" stroke="#74ff8a"/><circle cx="317" cy="319" r="1.5" stroke="#9cff62"/><circle cx="316" cy="315" r="1.5" stroke="#a6ff5a"/><circle cx="314" cy="306" r="1.5" stroke="#88ff76"/><circle cx="314" cy="315" r="1.5" stroke="#92ff6c"/><circle cx="302" cy="301" r="1.5" stroke="#88ff76"/><circle cx="320" cy="317" r="1.5" stroke="#9cff62"/><circle cx="320" cy="311" r="1.5" stroke="#a6ff5a"/><path d="M340.0 326.5h5M342.5 324.0v5" stroke="#62ff9c"/><circle cx="323" cy="319" r="1.5" stroke="#92ff6c"/><path d="M316.0 314.5h5M318.5 312.0v5" stroke="#74ff8a"/><path d="M311.0 312.5h5M313.5 310.0v5" stroke="#62ff9c"/><path d="M314.0 312.5h5M316.5 310.0v5" stroke="#74ff8a"/><path d="M317.0 315.5h5M319.5 313.0v5" stroke="#6aff94"/><circle cx="313" cy="316" r="1.5" stroke="#7eff80"/><circle cx="315" cy="316" r="1.5" stroke="#92ff6c"/><circle cx="323" cy="328" r="1.5" stroke="#7eff80"/><path d="M320.0 317.5h5M322.5 315.0v5" stroke="#74ff8a"/><circle cx="314" cy="316" r="1.5" stroke="#88ff76"/><circle cx="316" cy="312" r="1.5" stroke="#a6ff5a"/><circle cx="317" cy="325" r="1.5" stroke="#7eff80"/><circle cx="314" cy="320" r="1.5" stroke="#92ff6c"/><path d="M317.0 318.5h5M319.5 316.0v5" stroke="#74ff8a"/><path d="M316.0 312.5h5M318.5 310.0v5" stroke="#6aff94"/><circle cx="321" cy="317" r="1.5" stroke="#88ff76"/><path d="M317.0 318.5h5M319.5 316.0v5" stroke="#74ff8a"/><circle cx="320" cy="315" r="1.5" stroke="#88ff76"/><path d="M316.0 315.5h5M318.5 313.0v5" stroke="#74ff8a"/><circle cx="316" cy="320" r="1.5" stroke="#92ff6c"/><path d="M312.0 313.5h5M314.5 311.0v5" stroke="#62ff9c"/><circle cx="317" cy="314" r="1.5" stroke="#9cff62"/><circle cx="317" cy="309" r="1.5" stroke="#9cff62"/><circle cx="322" cy="317" r="1.5" stroke="#9cff62"/><circle cx="318" cy="319" r="1.5" stroke="#7eff80"/><circle cx="322" cy="310" r="1.5" stroke="#9cff62"/><circle cx="319" cy="318" r="1.5" stroke="#9cff62"/><circle cx="293" cy="334" r="1.5" stroke="#9cff62"/><circle cx="326" cy="299" r="1.5" stroke="#7eff80"/><circle cx="323" cy="319" r="1.5" stroke="#a6ff5a"/><circle cx="324" cy="309" r="1.5" stroke="#a6ff5a"/><circle cx="318" cy="306" r="1.5" stroke="#7eff80"/><circle cx="310" cy="327" r="1.5" stroke="#88ff76"/><path d="M318.0 316.5h5M320.5 314.0v5" stroke="#6aff94"/><circle cx="309" cy="316" r="1.5" stroke="#9cff62"/><circle cx="321" cy="321" r="1.5" stroke="#9cff62"/><circle cx="313" cy="320" r="1.5" stroke="#9cff62"/><path d="M315.0 326.5h5M317.5 324.0v5" stroke="#62ff9c"/><path d="M314.0 317.5h5M316.5 315.0v5" stroke="#62ff9c"/><path d="M319.0 309.5h5M321.5 307.0v5" stroke="#62ff9c"/><circle cx="319" cy="320" r="1.5" stroke="#9cff62"/><circle cx="323" cy="321" r="1.5" stroke="#7eff80"/><path d="M329.0 315.5h5M331.5 313.0v5" stroke="#6aff94"/><circle cx="307" cy="316" r="1.5" stroke="#9cff62"/><path d="M320.0 321.5h5M322.5 319.0v5" stroke="#74ff8a"/><path d="M318.0 319.5h5M320.5 317.0v5" stroke="#74ff8a"/><circle cx="323" cy="320" r="1.5" stroke="#7eff80"/><circle cx="322" cy="306" r="1.5" stroke="#88ff76"/><circle cx="305" cy="317" r="1.5" stroke="#a6ff5a"/><path d="M312.0 319.5h5M314.5 317.0v5" stroke="#62ff9c"/><circle cx="320" cy="316" r="1.5" stroke="#92ff6c"/><circle cx="321" cy="320" r="1.5" stroke="#92ff6c"/><circle cx="312" cy="323" r="1.5" stroke="#92ff6c"/><circle cx="312" cy="315" r="1.5" stroke="#88ff76"/><circle cx="319" cy="328" r="1.5" stroke="#a6ff5a"/><circle cx="320" cy="318" r="1.5" stroke="#a6ff5a"/><path d="M313.0 315.5h5M315.5 313.0v5" stroke="#6aff94"/><path d="M312.0 315.5h5M314.5 313.0v5" stroke="#6aff94"/><circle cx="316" cy="318" r="1.5" stroke="#9cff62"/><path d="M319.0 320.5h5M321.5 318.0v5" stroke="#62ff9c"/><circle cx="323" cy="306" r="1.5" stroke="#92ff6c"/><circle cx="317" cy="309" r="1.5" stroke="#9cff62"/><path d="M312.0 312.5h5M314.5 310.0v5" stroke="#74ff8a"/><circle cx="312" cy="317" r="1.5" stroke="#7eff80"/><circle cx="318" cy="324" r="1.5" stroke="#92ff6c"/><circle cx="319" cy="319" r="1.5" stroke="#a6ff5a"/><path d="M318.0 328.5h5M320.5 326.0v5" stroke="#74ff8a"/><circle cx="321" cy="315" r="1.5" stroke="#92ff6c"/><circle cx="314" cy="313" r="1.5" stroke="#7eff80"/><path d="M320.0 316.5h5M322.5 314.0v5" stroke="#62ff9c"/><circle cx="315" cy="326" r="1.5" stroke="#a6ff5a"/><circle cx="325" cy="320" r="1.5" stroke="#92ff6c"/><circle cx="316" cy="318" r="1.5" stroke="#7eff80"/><circle cx="322" cy="321" r="1.5" stroke="#88ff76"/><circle cx="320" cy="325" r="1.5" stroke="#7eff80"/><path d="M317.0 313.5h5M319.5 311.0v5" stroke="#74ff8a"/><path d="M320.0 317.5h5M322.5 315.0v5" stroke="#74ff8a"/><circle cx="322" cy="319" r="1.5" stroke="#92ff6c"/><circle cx="320" cy="319" r="1.5" stroke="#9cff62"/><circle cx="318" cy="323" r="1.5" stroke="#92ff6c"/><circle cx="318" cy="317" r="1.5" stroke="#88ff76"/><circle cx="312" cy="308" r="1.5" stroke="#7eff80"/><path d="M318.0 310.5h5M320.5 308.0v5" stroke="#74ff8a"/><circle cx="322" cy="316" r="1.5" stroke="#92ff6c"/><circle cx="312" cy="318" r="1.5" stroke="#a6ff5a"/><path d="M309.0 324.5h5M311.5 322.0v5" stroke="#62ff9c"/><circle cx="321" cy="321" r="1.5" stroke="#88ff76"/><path d="M316.0 312.5h5M318.5 310.0v5" stroke="#6aff94"/><circle cx="327" cy="312" r="1.5" stroke="#7eff80"/><circle cx="320" cy="323" r="1.5" stroke="#a6ff5a"/><circle cx="314" cy="317" r="1.5" stroke="#7eff80"/><path d="M316.0 316.5h5M318.5 314.0v5" stroke="#62ff9c"/><circle cx="313" cy="317" r="1.5" stroke="#9cff62"/><circle cx="315" cy="323" r="1.5" stroke="#a6ff5a"/><path d="M306.0 333.5h5M308.5 331.0v5" stroke="#74ff8a"/><path d="M314.0 318.5h5M316.5 316.0v5" stroke="#74ff8a"/><circle cx="321" cy="315" r="1.5" stroke="#9cff62"/><circle cx="319" cy="322" r="1.5" stroke="#7eff80"/><path d="M325.0 321.5h5M327.5 319.0v5" stroke="#74ff8a"/><circle cx="321" cy="323" r="1.5" stroke="#9cff62"/><circle cx="315" cy="319" r="1.5" stroke="#a6ff5a"/><circle cx="324" cy="325" r="1.5" stroke="#92ff6c"/><circle cx="322" cy="314" r="1.5" stroke="#92ff6c"/><circle cx="317" cy="304" r="1.5" stroke="#7eff80"/><circle cx="315" cy="325" r="1.5" stroke="#a6ff5a"/><circle cx="313" cy="325" r="1.5" stroke="#a6ff5a"/><circle cx="320" cy="322" r="1.5" stroke="#a6ff5a"/><circle cx="326" cy="312" r="1.5" stroke="#9cff62"/><path d="M331.0 311.5h5M333.5 309.0v5" stroke="#6aff94"/><circle cx="315" cy="318" r="1.5" stroke="#a6ff5a"/><circle cx="318" cy="328" r="1.5" stroke="#7eff80"/><path d="M315.0 328.5h5M317.5 326.0v5" stroke="#62ff9c"/><circle cx="318" cy="325" r="1.5" stroke="#7eff80"/><circle cx="324" cy="317" r="1.5" stroke="#88ff76"/><path d="M317.0 317.5h5M319.5 315.0v5" stroke="#62ff9c"/><circle cx="317" cy="320" r="1.5" stroke="#9cff62"/><path d="M321.0 321.5h5M323.5 319.0v5" stroke="#62ff9c"/><circle cx="316" cy="315" r="1.5" stroke="#88ff76"/><path d="M318.0 317.5h5M320.5 315.0v5" stroke="#74ff8a"/><circle cx="323" cy="319" r="1.5" stroke="#92ff6c"/><circle cx="322" cy="317" r="1.5" stroke="#a6ff5a"/><circle cx="321" cy="310" r="1.5" stroke="#9cff62"/><circle cx="317" cy="312" r="1.5" stroke="#a6ff5a"/><circle cx="317" cy="320" r="1.5" stroke="#92ff6c"/><circle cx="321" cy="317" r="1.5" stroke="#a6ff5a"/><circle cx="320" cy="316" r="1.5" stroke="#88ff76"/><circle cx="320" cy="315" r="1.5" stroke="#88ff76"/><circle cx="316" cy="319" r="1.5" stroke="#7eff80"/><path d="M313.0 320.5h5M315.5 318.0v5" stroke="#62ff9c"/><path d="M312.0 315.5h5M314.5 313.0v5" stroke="#6aff94"/><circle cx="321" cy="321" r="1.5" stroke="#a6ff5a"/><circle cx="310" cy="318" r="1.5" stroke="#a6ff5a"/><path d="M318.0 316.5h5M320.5 314.0v5" stroke="#74ff8a"/><path d="M317.0 310.5h5M319.5 308.0v5" stroke="#6aff94"/><path d="M319.0 315.5h5M321.5 313.0v5" stroke="#74ff8a"/><circle cx="324" cy="307" r="1.5" stroke="#7eff80"/><circle cx="316" cy="320" r="1.5" stroke="#7eff80"/><circle cx="336" cy="317" r="1.5" stroke="#9cff62"/><circle cx="312" cy="325" r="1.5" stroke="#9cff62"/><circle cx="304" cy="311" r="1.5" stroke="#9cff62"/><circle cx="311" cy="320" r="1.5" stroke="#7eff80"/><circle cx="320" cy="317" r="1.5" stroke="#88ff76"/><circle cx="325" cy="316" r="1.5" stroke="#88ff76"/><path d="M313.0 313.5h5M315.5 311.0v5" stroke="#74ff8a"/><circle cx="322" cy="333" r="1.5" stroke="#a6ff5a"/><circle cx="319" cy="315" r="1.5" stroke="#88ff76"/><path d="M324.0 320.5h5M326.5 318.0v5" stroke="#62ff9c"/><circle cx="316" cy="322" r="1.5" stroke="#88ff76"/><circle cx="321" cy="312" r="1.5" stroke="#7eff80"/><circle cx="321" cy="317" r="1.5" stroke="#7eff80"/><path d="M319.0 317.5h5M321.5 315.0v5" stroke="#62ff9c"/><path d="M317.0 319.5h5M319.5 317.0v5" stroke="#74ff8a"/><circle cx="319" cy="314" r="1.5" stroke="#88ff76"/><circle cx="320" cy="321" r="1.5" stroke="#a6ff5a"/><circle cx="316" cy="315" r="1.5" stroke="#92ff6c"/><circle cx="314" cy="320" r="1.5" stroke="#92ff6c"/><circle cx="318" cy="325" r="1.5" stroke="#88ff76"/><circle cx="319" cy="318" r="1.5" stroke="#9cff62"/><path d="M316.0 321.5h5M318.5 319.0v5" stroke="#6aff94"/><circle cx="315" cy="316" r="1.5" stroke="#88ff76"/><path d="M315.0 325.5h5M317.5 323.0v5" stroke="#62ff9c"/><circle cx="320" cy="320" r="1.5" stroke="#92ff6c"/><path d="M313.0 309.5h5M315.5 307.0v5" stroke="#6aff94"/><circle cx="323" cy="322" r="1.5" stroke="#7eff80"/><circle cx="318" cy="318" r="1.5" stroke="#a6ff5a"/><circle cx="321" cy="317" r="1.5" stroke="#92ff6c"/><circle cx="325" cy="319" r="1.5" stroke="#7eff80"/><circle cx="319" cy="312" r="1.5" stroke="#9cff62"/><path d="M316.0 318.5h5M318.5 316.0v5" stroke="#62ff9c"/><circle cx="327" cy="335" r="1.5" stroke="#92ff6c"/><circle cx="326" cy="319" r="1.5" stroke="#9cff62"/><circle cx="326" cy="325" r="1.5" stroke="#88ff76"/><path d="M315.0 318.5h5M317.5 316.0v5" stroke="#62ff9c"/><circle cx="324" cy="321" r="1.5" stroke="#a6ff5a"/><circle cx="323" cy="321" r="1.5" stroke="#92ff6c"/><path d="M313.0 320.5h5M315.5 318.0v5" stroke="#74ff8a"/><circle cx="318" cy="324" r="1.5" stroke="#7eff80"/><circle cx="315" cy="316" r="1.5" stroke="#9cff62"/><circle cx="315" cy="312" r="1.5" stroke="#a6ff5a"/><circle cx="322" cy="322" r="1.5" stroke="#92ff6c"/><path d="M314.0 314.5h5M316.5 312.0v5" stroke="#6aff94"/><circle cx="319" cy="317" r="1.5" stroke="#9cff62"/><circle cx="324" cy="322" r="1.5" stroke="#7eff80"/><path d="M315.0 322.5h5M317.5 320.0v5" stroke="#62ff9c"/><circle cx="320" cy="317" r="1.5" stroke="#a6ff5a"/><circle cx="317" cy="321" r="1.5" stroke="#9cff62"/><path d="M322.0 322.5h5M324.5 320.0v5" stroke="#74ff8a"/><circle cx="312" cy="311" r="1.5" stroke="#88ff76"/><path d="M315.0 309.5h5M317.5 307.0v5" stroke="#6aff94"/><circle cx="316" cy="318" r="1.5" stroke="#88ff76"/><path d="M315.0 309.5h5M317.5 307.0v5" stroke="#62ff9c"/><circle cx="321" cy="317" r="1.5" stroke="#a6ff5a"/><path d="M321.0 309.5h5M323.5 307.0v5" stroke="#74ff8a"/><path d="M281.0 302.5h5M283.5 300.0v5" stroke="#74ff8a"/><circle cx="325" cy="315" r="1.5" stroke="#7eff80"/><path d="M320.0 321.5h5M322.5 319.0v5" stroke="#6aff94"/><path d="M313.0 322.5h5M315.5 320.0v5" stroke="#62ff9c"/><circle cx="317" cy="319" r="1.5" stroke="#7eff80"/><circle cx="315" cy="315" r="1.5" stroke="#92ff6c"/><circle cx="323" cy="322" r="1.5" stroke="#7eff80"/><circle cx="318" cy="317" r="1.5" stroke="#a6ff5a"/><path d="M318.0 329.5h5M320.5 327.0v5" stroke="#62ff9c"/><circle cx="324" cy="321" r="1.5" stroke="#a6ff5a"/><circle cx="319" cy="310" r="1.5" stroke="#92ff6c"/><circle cx="315" cy="320" r="1.5" stroke="#a6ff5a"/><path d="M318.0 316.5h5M320.5 314.0v5" stroke="#62ff9c"/><circle cx="324" cy="322" r="1.5" stroke="#a6ff5a"/><path d="M313.0 318.5h5M315.5 316.0v5" stroke="#6aff94"/><circle cx="330" cy="323" r="1.5" stroke="#9cff62"/><path d="M317.0 325.5h5M319.5 323.0v5" stroke="#74ff8a"/><path d="M315.0 315.5h5M317.5 313.0v5" stroke="#6aff94"/><path d="M317.0 314.5h5M319.5 312.0v5" stroke="#74ff8a"/><circle cx="320" cy="319" r="1.5" stroke="#92ff6c"/><circle cx="315" cy="321" r="1.5" stroke="#92ff6c"/><circle cx="323" cy="315" r="1.5" stroke="#9cff62"/><circle cx="318" cy="320" r="1.5" stroke="#a6ff5a"/><circle cx="320" cy="319" r="1.5" stroke="#a6ff5a"/><path d="M316.0 313.5h5M318.5 311.0v5" stroke="#62ff9c"/><path d="M314.0 314.5h5M316.5 312.0v5" stroke="#62ff9c"/><circle cx="322" cy="317" r="1.5" stroke="#92ff6c"/><path d="M312.0 318.5h5M314.5 316.0v5" stroke="#74ff8a"/><circle cx="315" cy="333" r="1.5" stroke="#88ff76"/><path d="M311.0 314.5h5M313.5 312.0v5" stroke="#62ff9c"/><circle cx="315" cy="316" r="1.5" stroke="#7eff80"/><path d="M323.0 307.5h5M325.5 305.0v5" stroke="#74ff8a"/><circle cx="311" cy="325" r="1.5" stroke="#88ff76"/><circle cx="325" cy="313" r="1.5" stroke="#a6ff5a"/><circle cx="315" cy="316" r="1.5" stroke="#7eff80"/><circle cx="315" cy="320" r="1.5" stroke="#9cff62"/><circle cx="311" cy="314" r="1.5" stroke="#92ff6c"/><circle cx="322" cy="322" r="1.5" stroke="#88ff76"/><circle cx="323" cy="318" r="1.5" stroke="#7eff80"/><circle cx="312" cy="318" r="1.5" stroke="#92ff6c"/><path d="M309.0 323.5h5M311.5 321.0v5" stroke="#6aff94"/><path d="M319.0 321.5h5M321.5 319.0v5" stroke="#74ff8a"/><circle cx="326" cy="318" r="1.5" stroke="#a6ff5a"/><path d="M317.0 315.5h5M319.5 313.0v5" stroke="#62ff9c"/><circle cx="323" cy="312" r="1.5" stroke="#7eff80"/><path d="M320.0 316.5h5M322.5 314.0v5" stroke="#6aff94"/><path d="M316.0 318.5h5M318.5 316.0v5" stroke="#6aff94"/><circle cx="319" cy="323" r="1.5" stroke="#7eff80"/><circle cx="316" cy="318" r="1.5" stroke="#7eff80"/><circle cx="316" cy="309" r="1.5" stroke="#9cff62"/><circle cx="311" cy="308" r="1.5" stroke="#88ff76"/><circle cx="316" cy="324" r="1.5" stroke="#9cff62"/><circle cx="335" cy="299" r="1.5" stroke="#7eff80"/><circle cx="316" cy="318" r="1.5" stroke="#92ff6c"/><circle cx="315" cy="321" r="1.5" stroke="#88ff76"/><circle cx="317" cy="317" r="1.5" stroke="#7eff80"/><path d="M311.0 323.5h5M313.5 321.0v5" stroke="#6aff94"/><circle cx="320" cy="322" r="1.5" stroke="#7eff80"/><circle cx="319" cy="311" r="1.5" stroke="#88ff76"/><circle cx="311" cy="318" r="1.5" stroke="#88ff76"/><path d="M311.0 319.5h5M313.5 317.0v5" stroke="#6aff94"/><circle cx="320" cy="320" r="1.5" stroke="#a6ff5a"/><circle cx="329" cy="315" r="1.5" stroke="#9cff62"/><circle cx="329" cy="318" r="1.5" stroke="#92ff6c"/><circle cx="319" cy="317" r="1.5" stroke="#9cff62"/><path d="M312.0 317.5h5M314.5 315.0v5" stroke="#74ff8a"/><path d="M311.0 322.5h5M313.5 320.0v5" stroke="#62ff9c"/><path d="M325.0 304.5h5M327.5 302.0v5" stroke="#62ff9c"/><circle cx="315" cy="322" r="1.5" stroke="#88ff76"/><circle cx="323" cy="330" r="1.5" stroke="#7eff80"/><path d="M319.0 322.5h5M321.5 320.0v5" stroke="#6aff94"/><circle cx="320" cy="328" r="1.5" stroke="#a6ff5a"/><circle cx="318" cy="334" r="1.5" stroke="#92ff6c"/><circle cx="315" cy="321" r="1.5" stroke="#9cff62"/><path d="M313.0 314.5h5M315.5 312.0v5" stroke="#74ff8a"/><path d="M313.0 319.5h5M315.5 317.0v5" stroke="#6aff94"/><circle cx="311" cy="323" r="1.5" stroke="#7eff80"/><circle cx="322" cy="322" r="1.5" stroke="#92ff6c"/><path d="M316.0 321.5h5M318.5 319.0v5" stroke="#6aff94"/><circle cx="333" cy="314" r="1.5" stroke="#92ff6c"/><circle cx="315" cy="311" r="1.5" stroke="#92ff6c"/><circle cx="322" cy="325" r="1.5" stroke="#9cff62"/><circle cx="302" cy="327" r="1.5" stroke="#92ff6c"/><path d="M318.0 313.5h5M320.5 311.0v5" stroke="#74ff8a"/><circle cx="318" cy="320" r="1.5" stroke="#a6ff5a"/><circle cx="320" cy="321" r="1.5" stroke="#9cff62"/><circle cx="320" cy="324" r="1.5" stroke="#7eff80"/><circle cx="320" cy="319" r="1.5" stroke="#a6ff5a"/><path d="M317.0 317.5h5M319.5 315.0v5" stroke="#62ff9c"/><circle cx="320" cy="317" r="1.5" stroke="#92ff6c"/><path d="M336.0 308.5h5M338.5 306.0v5" stroke="#6aff94"/><circle cx="314" cy="317" r="1.5" stroke="#a6ff5a"/><circle cx="316" cy="314" r="1.5" stroke="#7eff80"/><path d="M329.0 323.5h5M331.5 321.0v5" stroke="#6aff94"/><path d="M306.0 317.5h5M308.5 315.0v5" stroke="#6aff94"/><circle cx="320" cy="317" r="1.5" stroke="#92ff6c"/><circle cx="318" cy="310" r="1.5" stroke="#a6ff5a"/><path d="M317.0 321.5h5M319.5 319.0v5" stroke="#62ff9c"/><circle cx="320" cy="311" r="1.5" stroke="#9cff62"/><circle cx="319" cy="317" r="1.5" stroke="#9cff62"/><circle cx="316" cy="315" r="1.5" stroke="#88ff76"/><circle cx="321" cy="326" r="1.5" stroke="#92ff6c"/><circle cx="322" cy="318" r="1.5" stroke="#92ff6c"/><circle cx="321" cy="320" r="1.5" stroke="#9cff62"/><path d="M324.0 324.5h5M326.5 322.0v5" stroke="#62ff9c"/><circle cx="311" cy="318" r="1.5" stroke="#9cff62"/></g>
<text class="mb" x="281.5" y="56.5">North</text>
<text class="mb" x="281.5" y="577.5">South</text>
<text class="mb" x="16" y="318">West</text>
<text class="mb" x="551.8" y="318">East</text>
<text class="hb" x="399.3" y="19.3">STATION NAME    YYYY DATE  DDD HHMMSS AXN PPS IGP</text>
<text class="hb" x="399.3" y="36">Eglin AFB       2011 Apr30 120 200800 417 100 -8D</text>
<text class="m" x="594.3" y="71.0">Num of Sources</text>
<text class="m" x="770.0" y="71.0">495</text>
<text class="m" x="594.3" y="85.0">Min Freq, kHz</text>
<text class="m" x="763.0" y="85.0">5100</text>
<text class="m" x="594.3" y="99.0">Max Freq, kHz</text>
<text class="m" x="763.0" y="99.0">5450</text>
<text class="m" x="594.3" y="113.0">Min Range, km</text>
<text class="m" x="770.0" y="113.0">442</text>
<text class="m" x="594.3" y="127.0">Max Range, km</text>
<text class="m" x="770.0" y="127.0">492</text>
<text class="m" x="594.3" y="141.0">Max Amp, dB</text>
<text class="m" x="777.0" y="141.0">49</text>
<text class="m" x="594.3" y="155.0">Max SNR Amp, dB</text>
<text class="m" x="777.0" y="155.0">33</text>
<text class="m" x="594.3" y="169.0">Min SNR Amp, dB</text>
<text class="m" x="777.0" y="169.0">12</text>
<text class="m" x="594.3" y="183.0">Avg SNR Amp, dB</text>
<text class="m" x="777.0" y="183.0">23</text>
<text class="m" x="594.3" y="197.0">Max RMS Err, deg</text>
<text class="m" x="763.0" y="197.0">12.0</text>
<text class="m" x="594.3" y="211.0">Min RMS Err, deg</text>
<text class="m" x="770.0" y="211.0">0.0</text>
<text class="m" x="594.3" y="225.0">Avg RMS Err, deg</text>
<text class="m" x="770.0" y="225.0">5.4</text>
<text class="m" x="594.3" y="239.0">Doppler Res, Hz</text>
<text class="m" x="749.0" y="239.0">0.0488</text>
<text class="m" x="594.3" y="253.0">CIT, sec</text>
<text class="m" x="756.0" y="253.0">20.48</text>
<text class="m" x="594.3" y="267.0">Num of CITs</text>
<text class="m" x="784.0" y="267.0">6</text>
<text class="m" x="594.3" y="281.0">Polarization</text>
<text class="m" x="749.0" y="281.0">O-mode</text>
<text class="m" x="594.3" y="295.0">Center of Sources, deg:</text>
<text class="m" x="594.3" y="309.0">          Zenith</text>
<text class="m" x="770.0" y="309.0">3.4</text>
<text class="m" x="594.3" y="323.0">          Azimuth</text>
<text class="m" x="770.0" y="323.0">257</text>
<path d="M725.9 319.8 C725.6 317.6 723.9 317.3 723 318.6 C722.6 319.2 722.3 319.8 721.9 320.5" fill="none" stroke="#222" stroke-width="1.2"/>
<path d="M720.2 319.3 L723.6 320.3 L721.6 321.4 Z" fill="#222"/>
<rect x="593" y="341" width="15.2" height="241" fill="url(#cb)"/>
<line x1="608.6" y1="341" x2="608.6" y2="583" stroke="#000" stroke-width="1.1"/>
<path d="M608 341.50h7M608 345.50h7M608 349.50h4M608 353.50h4M608 357.50h4M608 361.50h4M608 365.50h7M608 369.50h4M608 372.50h4M608 376.50h4M608 380.50h4M608 384.50h7M608 388.50h4M608 392.50h4M608 396.50h4M608 400.50h4M608 403.50h7M608 407.50h4M608 411.50h4M608 415.50h4M608 419.50h4M608 423.50h7M608 427.50h4M608 431.50h4M608 434.50h4M608 438.50h4M608 442.50h7M608 446.50h4M608 450.50h4M608 454.50h4M608 457.50h4M608 461.50h7M608 465.50h4M608 469.50h4M608 473.50h4M608 477.50h4M608 481.50h7M608 485.50h4M608 489.50h4M608 492.50h4M608 496.50h4M608 500.50h7M608 504.50h4M608 508.50h4M608 512.50h4M608 516.50h4M608 520.50h7M608 523.50h4M608 527.50h4M608 531.50h4M608 535.50h4M608 539.50h7M608 543.50h4M608 547.50h4M608 551.50h4M608 554.50h4M608 558.50h7M608 562.50h4M608 566.50h4M608 570.50h4M608 574.50h4M608 578.50h7M608 582.50h7" stroke="#000" stroke-width="1" fill="none"/>
<text class="sb" x="617.4" y="345.1">3.1</text>
<text class="sb" x="617.4" y="369.1">2.5</text>
<text class="sb" x="617.4" y="388.1">2.0</text>
<text class="sb" x="617.4" y="407.1">1.5</text>
<text class="sb" x="617.4" y="427.1">1.0</text>
<text class="sb" x="617.4" y="446.1">0.5</text>
<text class="sb" x="617.4" y="465.1">0</text>
<text class="sb" x="617.4" y="485.1">-0.5</text>
<text class="sb" x="617.4" y="504.1">-1.0</text>
<text class="sb" x="617.4" y="524.1">-1.5</text>
<text class="sb" x="617.4" y="543.1">-2.0</text>
<text class="sb" x="617.4" y="562.1">-2.5</text>
<text class="sb" x="617.4" y="586.1">-3.1</text>
<text class="sb" style="font-size:10px;letter-spacing:-1.22px" transform="translate(657,491.7) rotate(-90)">Doppler, Hz</text>
<path d="M669 402.5h8M672.5 398.5v8" stroke="#0000f0" stroke-width="1" fill="none"/>
<text class="sb" style="font-size:10px;fill:#0000f0" x="682.7" y="406">Positive</text>
<circle cx="673" cy="522.7" r="2.6" fill="none" stroke="#f00000" stroke-width="1.1"/>
<text class="sb" style="font-size:10px;fill:#f00000" x="682.7" y="526">Negative</text>
<text class="s" style="font-size:9.5px" y="592.7"><tspan x="653.8" textLength="63.4" lengthAdjust="spacingAndGlyphs">ShowSkymap</tspan><tspan x="719.8">v</tspan><tspan x="728.4">1.0</tspan><tspan x="752.8">SD</tspan><tspan x="769.4">v</tspan><tspan x="778.3">5.0</tspan></text>
<text x="12.5" y="572" class="mi">V<tspan dy="4" style="font-style:normal;font-size:9.3px;letter-spacing:0.4px">h</tspan><tspan dy="-4"> = 62 ± 86 </tspan><tspan style="font-style:normal">m/s</tspan></text>
<text x="12.5" y="592.5" class="mi">Compass coordinates</text>
<text x="473.5" y="572" class="mi">V<tspan dy="4" style="font-style:normal;font-weight:bold;font-size:10px;letter-spacing:0">z</tspan><tspan dy="-4"> = -3 ± 5 </tspan><tspan style="font-style:normal">m/s</tspan></text>
<text x="419.5" y="592.5" class="mi">Zenith: max 40°<tspan x="534.8">step 5°</tspan></text>
</svg></body></html>
